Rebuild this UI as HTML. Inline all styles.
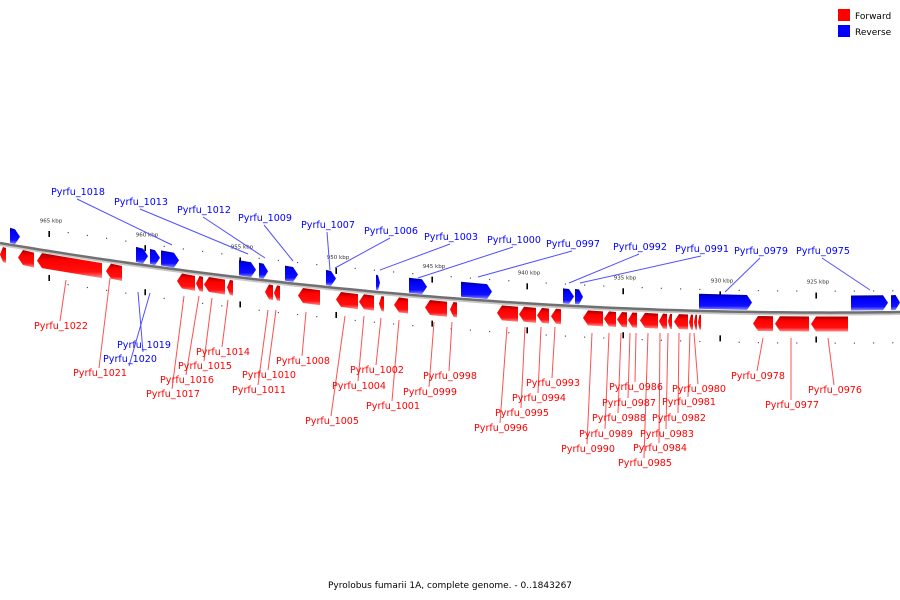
<!DOCTYPE html>
<html><head><meta charset="utf-8"><style>
html,body{margin:0;padding:0;background:#fff;width:900px;height:600px;overflow:hidden}
svg{display:block;font-family:"DejaVu Sans","Liberation Sans",sans-serif}
</style></head><body>
<svg id="map" width="900" height="600" viewBox="0 0 900 600" xmlns="http://www.w3.org/2000/svg">
<defs>
<linearGradient id="gr" x1="0" y1="0" x2="0" y2="1"><stop offset="0" stop-color="#a00000"/><stop offset="0.2" stop-color="#e00000"/><stop offset="0.3" stop-color="#ff0000"/><stop offset="0.75" stop-color="#ff1010"/><stop offset="1" stop-color="#ff9090"/></linearGradient>
<linearGradient id="gb" x1="0" y1="0" x2="0" y2="1"><stop offset="0" stop-color="#0000a0"/><stop offset="0.2" stop-color="#0000e0"/><stop offset="0.3" stop-color="#0000ff"/><stop offset="0.75" stop-color="#1010ff"/><stop offset="1" stop-color="#9090ff"/></linearGradient>
</defs>
<g id="legend">
<rect x="838" y="9" width="12" height="12" fill="#f00"/>
<text x="855" y="19" font-size="9" fill="#000">Forward</text>
<rect x="838" y="25" width="12" height="12" fill="#00f"/>
<text x="855" y="35" font-size="9" fill="#000">Reverse</text>
</g>
<text x="450" y="588" font-size="9" text-anchor="middle" fill="#000">Pyrolobus fumarii 1A, complete genome. - 0..1843267</text>
<g id="ticks"></g><g id="backbone"></g><g id="lines"></g><g id="genes"></g><g id="labels"></g>
</svg>
<script>
// data
const geneNames = ["","","Pyrfu_1022","Pyrfu_1021","Pyrfu_1017","Pyrfu_1016","Pyrfu_1015","Pyrfu_1014","Pyrfu_1011","Pyrfu_1010","Pyrfu_1008","Pyrfu_1005","Pyrfu_1004","Pyrfu_1002","Pyrfu_1001","Pyrfu_0999","Pyrfu_0998","Pyrfu_0996","Pyrfu_0995","Pyrfu_0994","Pyrfu_0993","Pyrfu_0990","Pyrfu_0989","Pyrfu_0988","Pyrfu_0987","Pyrfu_0986","Pyrfu_0985","Pyrfu_0984","Pyrfu_0983","Pyrfu_0982","Pyrfu_0981","Pyrfu_0980","Pyrfu_0978","Pyrfu_0977","Pyrfu_0976",
"","Pyrfu_1020","Pyrfu_1019","Pyrfu_1018","Pyrfu_1013","Pyrfu_1012","Pyrfu_1009","Pyrfu_1007","Pyrfu_1006","Pyrfu_1003","Pyrfu_1000","Pyrfu_0997","Pyrfu_0992","Pyrfu_0979","Pyrfu_0975",""];
const geneStart = [0,18,37,106,177,196,204,227,265,274,298,336,359,379,394,425,450,497,519,537,551,583,604,617,628,640,659,668,674,689,694,698,753,775,811,
10,136,150,161,239,259,285,326,376,409,461,563,575,699,851,891];
const geneEnd = [6,34,102,122,195,203,225,233,273,280,320,358,374,384,408,447,457,518,536,549,561,603,616,627,637,658,667,672,688,693,697,701,773,809,848,
20,148,160,179,256,268,298,336,380,427,492,574,583,752,888,900];
const geneStrand = [1,1,1,1,1,1,1,1,1,1,1,1,1,1,1,1,1,1,1,1,1,1,1,1,1,1,1,1,1,1,1,1,1,1,1,
-1,-1,-1,-1,-1,-1,-1,-1,-1,-1,-1,-1,-1,-1,-1,-1];
const labelX = [0,0,34,73,146,160,178,196,232,242,276,305,332,350,366,403,423,474,495,512,526,561,579,592,602,609,618,633,640,652,662,672,731,765,808,
0,103,117,51,114,177,238,301,364,424,487,546,613,734,796,0];
const labelY = [0,0,329,376,397,383,369,355,393,378,364,424,389,373,409,395,379,431,416,401,386,452,437,421,406,390,466,451,437,421,405,392,379,408,393,
0,362,348,195,205,213,221,228,234,240,243,247,250,254,254,0];
const leaderX = [0,0,66,110,184,199,212,228,268,276,306,345,364,381,399,434,452,507,525,541,555,592,609,621,630,636,648,660,668,679,690,694,763,791,828,
0,150,138,172,248,265,293,330,335,380,418,478,569,725,870,0];
const leaderY = [0,0,280,278,296,296,298,300,310,310,312,316,316,318,320,322,322,327,327,327,327,333,333,333,333,333,333,333,333,333,333,333,338,338,338,
0,293,292,245,254,258,261,270,268,270,278,277,283,292,290,0];
const extraLabels = ["Pyrfu_0991"];
const extraLabelX = [675];
const extraLabelY = [252];
const extraLeaderX = [580];
const extraLeaderY = [283];
const kbpLabels = ["965 kbp","960 kbp","955 kbp","950 kbp","945 kbp","940 kbp","935 kbp","930 kbp","925 kbp"];
const kbpX = [51,147,242,338,434,529,625,722,818];

const NS="http://www.w3.org/2000/svg";
function by(x){return -1.012e-4*x*x+0.1678*x+243;}
function mk(t,a,p){const e=document.createElementNS(NS,t);for(const k in a)e.setAttribute(k,a[k]);p.appendChild(e);return e;}
const gT=document.getElementById('ticks'),gB=document.getElementById('backbone'),gL=document.getElementById('lines'),gG=document.getElementById('genes'),gX=document.getElementById('labels');

let d="",d2="";
for(let x=0;x<=900;x+=10){d+=(x?"L":"M")+x+","+by(x).toFixed(1);d2+=(x?"L":"M")+x+","+(by(x)+2).toFixed(1);}
const sh=mk('path',{d:d2,stroke:"#c8c8c8","stroke-width":2,fill:"none"},gB);


const bb=mk('path',{d:d,stroke:"#707070","stroke-width":2.5,fill:"none"},gB);



for(let i=0;i<kbpX.length;i++){
  const mx=kbpX[i]-2;
  for(let j=0;j<5;j++){
    const x=mx+j*19.2;
    if(x>900)break;
    const major=j===0;
    const t1=mk('rect',{x:x-0.6,y:major?by(x)-20:by(x)-22,width:major?1.6:1.2,height:major?6:1.2,fill:major?"#000":"#555"},gT);
    
    
    const t2=mk('rect',{x:x-0.6,y:major?by(x)+24:by(x)+30,width:major?1.6:1.2,height:major?6:1.2,fill:major?"#000":"#555"},gT);
    
    
  }
  const tl=mk('text',{x:kbpX[i],y:by(kbpX[i])-29,"font-size":5.5,fill:"#333","text-anchor":"middle"},gT);
  tl.textContent=kbpLabels[i];
  
  
}

for(let i=0;i<geneStart.length;i++){
  const s=geneStart[i],e=geneEnd[i],fw=geneStrand[i]>0;
  const off1=fw?4:-17,off2=fw?19:-2;
  const ys=by(s),ye=by(e);
  const len=e-s,head=Math.min(5,len*0.5);
  let pts;
  if(fw){
    pts=[[s,ys+(off1+off2)/2],[s+head,ys+off1],[e,ye+off1],[e,ye+off2],[s+head,ys+off2]];
  }else{
    pts=[[s,ys+off1],[e-head,ye+off1],[e,ye+(off1+off2)/2],[e-head,ye+off2],[s,ys+off2]];
  }
  const p=mk('polygon',{points:pts.map(q=>q[0].toFixed(1)+","+q[1].toFixed(1)).join(" "),fill:fw?"url(#gr)":"url(#gb)"},gG);
  
  
  if(geneNames[i]){
    const col=fw?"#f00":"#00f";
    const tx=labelX[i],ty=labelY[i];
    const lx=tx+26, ly=fw?ty-8:ty+4;
    const ln=mk('line',{x1:lx,y1:ly,x2:leaderX[i],y2:leaderY[i],stroke:fw?"#ff5050":"#5050ff","stroke-width":1},gL);
    
    
    const t=mk('text',{x:tx,y:ty,"font-size":10,fill:col,textLength:54,lengthAdjust:"spacingAndGlyphs"},gX);
    t.textContent=geneNames[i];
    
    
  }
}
for(let i=0;i<extraLabels.length;i++){
  const ln=mk('line',{x1:extraLabelX[i]+26,y1:extraLabelY[i]+4,x2:extraLeaderX[i],y2:extraLeaderY[i],stroke:"#5050ff","stroke-width":1},gL);
  
  
  const t=mk('text',{x:extraLabelX[i],y:extraLabelY[i],"font-size":10,fill:"#00f",textLength:54,lengthAdjust:"spacingAndGlyphs"},gX);
  t.textContent=extraLabels[i];
  
  
}
</script>
</body></html>
